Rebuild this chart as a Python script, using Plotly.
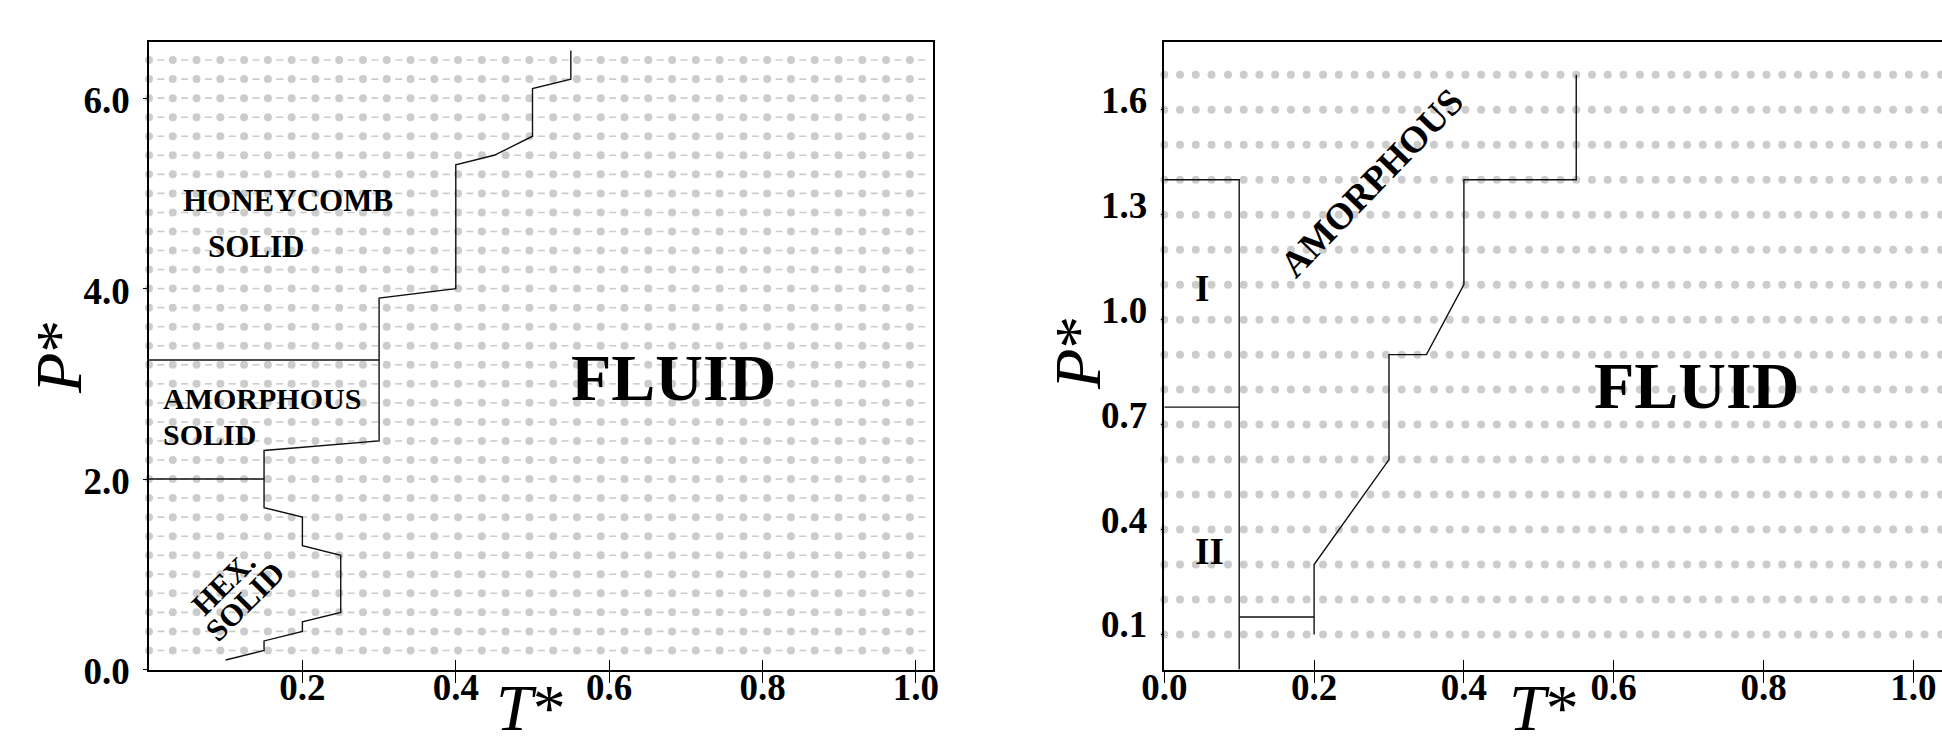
import plotly.graph_objects as go

W, H = 1942, 745

# ---------------- data: left panel ----------------
T_grid_left = [0.000, 0.031, 0.062, 0.093, 0.124, 0.155, 0.186, 0.217, 0.248, 0.279,
               0.310, 0.341, 0.372, 0.403, 0.434, 0.465, 0.496, 0.527, 0.558, 0.589,
               0.620, 0.651, 0.682, 0.713, 0.744, 0.775, 0.806, 0.837, 0.868, 0.899,
               0.930, 0.961, 0.992, 1.023]
P_grid_left = [0.2, 0.4, 0.6, 0.8, 1.0, 1.2, 1.4, 1.6, 1.8, 2.0, 2.2, 2.4, 2.6, 2.8, 3.0, 3.2,
               3.4, 3.6, 3.8, 4.0, 4.2, 4.4, 4.6, 4.8, 5.0, 5.2, 5.4, 5.6, 5.8, 6.0, 6.2, 6.4]

T_boundary_left = [0.10, 0.15, 0.15, 0.20, 0.20, 0.25, 0.25, 0.20, 0.20, 0.15, 0.15,
                   0.30, 0.30, 0.40, 0.40, 0.45, 0.50, 0.50, 0.55, 0.55]
P_boundary_left = [0.10, 0.20, 0.30, 0.40, 0.50, 0.60, 1.20, 1.30, 1.60, 1.70, 2.30,
                   2.40, 3.90, 4.00, 5.30, 5.40, 5.60, 6.10, 6.20, 6.50]
T_hex_amorph = [0.0, 0.15]
P_hex_amorph = [2.0, 2.0]
T_amorph_honey = [0.0, 0.30]
P_amorph_honey = [3.25, 3.25]

x_ticks_left = [0.2, 0.4, 0.6, 0.8, 1.0]
x_ticktext_left = ["0.2", "0.4", "0.6", "0.8", "1.0"]
y_ticks_left = [0.0, 2.0, 4.0, 6.0]
y_ticktext_left = ["0.0", "2.0", "4.0", "6.0"]

# ---------------- data: right panel ----------------
T_grid_right = [0.000, 0.021, 0.042, 0.063, 0.085, 0.106, 0.127, 0.148, 0.169, 0.190,
                0.212, 0.233, 0.254, 0.275, 0.296, 0.317, 0.338, 0.360, 0.381, 0.402,
                0.423, 0.444, 0.465, 0.487, 0.508, 0.529, 0.550, 0.571, 0.592, 0.613,
                0.635, 0.656, 0.677, 0.698, 0.719, 0.740, 0.762, 0.783, 0.804, 0.825,
                0.846, 0.867, 0.888, 0.910, 0.931, 0.952, 0.973, 0.994, 1.015, 1.037]
P_grid_right = [0.1, 0.2, 0.3, 0.4, 0.5, 0.6, 0.7, 0.8, 0.9, 1.0, 1.1, 1.2, 1.3, 1.4, 1.5, 1.6, 1.7]

T_boundary_right = [0.20, 0.20, 0.30, 0.30, 0.35, 0.40, 0.40, 0.55, 0.55]
P_boundary_right = [0.10, 0.30, 0.60, 0.90, 0.90, 1.10, 1.40, 1.40, 1.70]
T_box_right = [0.0, 0.10, 0.10]
P_box_right = [1.40, 1.40, 0.0]
T_I_II = [0.0, 0.10]
P_I_II = [0.75, 0.75]
T_step_right = [0.10, 0.20]
P_step_right = [0.15, 0.15]

x_ticks_right = [0.0, 0.2, 0.4, 0.6, 0.8, 1.0]
x_ticktext_right = ["0.0", "0.2", "0.4", "0.6", "0.8", "1.0"]
y_ticks_right = [0.1, 0.4, 0.7, 1.0, 1.3, 1.6]
y_ticktext_right = ["0.1", "0.4", "0.7", "1.0", "1.3", "1.6"]

# ---------------- styles ----------------
FONT = "Liberation Serif"
DOT = "#cccccc"
LINE = "#111111"

fig = go.Figure()

# left dots (with dashes between them)
gx, gy = [], []
for p in P_grid_left:
    for t in T_grid_left:
        gx.append(t); gy.append(p)
fig.add_trace(go.Scatter(x=gx, y=gy, mode="markers", xaxis="x", yaxis="y",
                         marker=dict(size=8, color=DOT), cliponaxis=False,
                         hoverinfo="skip", showlegend=False))
mid_left = [(a + b) / 2 for a, b in zip(T_grid_left[:-1], T_grid_left[1:])]
dx, dy = [], []
for p in P_grid_left:
    for t in mid_left:
        dx.append(t); dy.append(p)
fig.add_trace(go.Scatter(x=dx, y=dy, mode="markers", xaxis="x", yaxis="y",
                         marker=dict(symbol="line-ew", size=5,
                                     line=dict(color=DOT, width=1.6)),
                         hoverinfo="skip", showlegend=False))

# right dots
rx, ry = [], []
for p in P_grid_right:
    for t in T_grid_right:
        rx.append(t); ry.append(p)
fig.add_trace(go.Scatter(x=rx, y=ry, mode="markers", xaxis="x2", yaxis="y2",
                         marker=dict(size=8, color=DOT), cliponaxis=False,
                         hoverinfo="skip", showlegend=False))

def add_line(xs, ys, xa, ya):
    fig.add_trace(go.Scatter(x=xs, y=ys, mode="lines", xaxis=xa, yaxis=ya,
                             line=dict(color=LINE, width=1.4),
                             hoverinfo="skip", showlegend=False))

add_line(T_boundary_left, P_boundary_left, "x", "y")
add_line(T_hex_amorph, P_hex_amorph, "x", "y")
add_line(T_amorph_honey, P_amorph_honey, "x", "y")
add_line(T_boundary_right, P_boundary_right, "x2", "y2")
add_line(T_box_right, P_box_right, "x2", "y2")
add_line(T_I_II, P_I_II, "x2", "y2")
add_line(T_step_right, P_step_right, "x2", "y2")

# empty traces for overlay tick axes
fig.add_trace(go.Scatter(x=[], y=[], xaxis="x3", yaxis="y", showlegend=False))
fig.add_trace(go.Scatter(x=[], y=[], xaxis="x4", yaxis="y2", showlegend=False))

XL = [149 / W, 933 / W]
XR = [1164.3 / W, 1.0]
YD = [1 - 669.5 / H, 1 - 41.5 / H]
XRANGE_L = [0, 1.0222]
XRANGE_R = [0, (W - 1164.3) / 749.0]

tickfont = dict(family=FONT, size=37, color="black")
bold = lambda lst: ["<b>%s</b>" % s for s in lst]

common = dict(showgrid=False, zeroline=False, showline=True, linecolor="black",
              tickcolor="black", tickfont=tickfont, automargin=False)

fig.update_layout(
    template="none",
    width=W, height=H, margin=dict(l=0, r=0, t=0, b=0, pad=0, autoexpand=False),
    paper_bgcolor="white", plot_bgcolor="white", showlegend=False,
    xaxis=dict(domain=XL, range=XRANGE_L, anchor="y", mirror=True, linewidth=1.8,
               ticks="inside", ticklen=10, tickwidth=1.3, ticklabelstandoff=-16,
               tickvals=x_ticks_left, ticktext=bold(x_ticktext_left), **common),
    yaxis=dict(domain=YD, range=[0, 6.595], anchor="x", mirror=True, linewidth=1.5,
               ticks="outside", ticklen=4, tickwidth=1.2, ticklabelstandoff=6,
               ticklabelshift=2,
               tickvals=y_ticks_left, ticktext=bold(y_ticktext_left), **common),
    xaxis3=dict(overlaying="x", anchor="y", range=XRANGE_L, showgrid=False, zeroline=False,
                showline=False, ticks="outside", ticklen=12, tickwidth=1.0, tickcolor="black",
                tickvals=x_ticks_left, showticklabels=False, automargin=False),
    xaxis2=dict(domain=XR, range=XRANGE_R, anchor="y2", mirror=True, linewidth=1.8,
                ticks="inside", ticklen=10, tickwidth=1.3, ticklabelstandoff=-16,
                tickvals=x_ticks_right, ticktext=bold(x_ticktext_right), **common),
    yaxis2=dict(domain=YD, range=[0, 1.795], anchor="x2", mirror=False, linewidth=1.5,
                ticks="outside", ticklen=2, tickwidth=1.2, ticklabelstandoff=6,
                ticklabelshift=-10,
                tickvals=y_ticks_right, ticktext=bold(y_ticktext_right), **common),
    xaxis4=dict(overlaying="x2", anchor="y2", range=XRANGE_R, showgrid=False, zeroline=False,
                showline=False, ticks="outside", ticklen=12, tickwidth=1.0, tickcolor="black",
                tickvals=x_ticks_right, showticklabels=False, automargin=False),
)

def label(text, x, y, xref, yref, size, angle=0, italic=False, xanchor="center"):
    t = text if italic else "<b>%s</b>" % text
    fig.add_annotation(text=t, x=x, y=y, xref=xref, yref=yref, showarrow=False,
                       textangle=angle, xanchor=xanchor, yanchor="middle",
                       font=dict(family=FONT, size=size, color="black"))

# left panel region labels
label("HONEYCOMB", 0.181, 4.93, "x", "y", 31)
label("SOLID", 0.1396, 4.44, "x", "y", 31)
label("AMORPHOUS", 0.0150, 2.841, "x", "y", 30, xanchor="left")
label("SOLID", 0.0150, 2.463, "x", "y", 30, xanchor="left")
label("HEX.", 0.097, 0.905, "x", "y", 31, angle=-45)
label("SOLID", 0.1253, 0.712, "x", "y", 31, angle=-45)
label("FLUID", 0.6836, 3.067, "x", "y", 66)

# right panel region labels
label("I", 0.050, 1.089, "x2", "y2", 37)
label("II", 0.060, 0.336, "x2", "y2", 37)
label("AMORPHOUS", 0.277, 1.393, "x2", "y2", 37, angle=-46)
label("FLUID", 0.7105, 0.812, "x2", "y2", 66)

# axis titles
label("<i>P</i>*", 58 / W, 1 - 357 / H, "paper", "paper", 66, angle=-90, italic=True)
label("<i>P</i>*", 1077 / W, 1 - 353 / H, "paper", "paper", 66, angle=-90, italic=True)
label("<i>T</i>*", 531 / W, 1 - 707 / H, "paper", "paper", 66, italic=True)
label("<i>T</i>*", 1544 / W, 1 - 707 / H, "paper", "paper", 66, italic=True)

fig.write_html("out.html")
